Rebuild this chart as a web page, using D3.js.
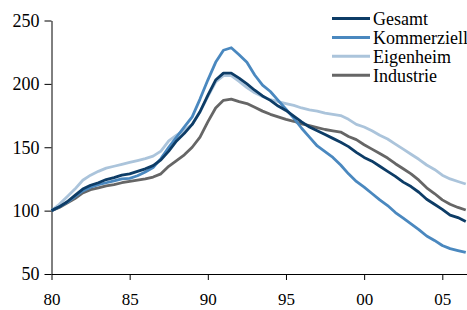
<!DOCTYPE html>
<html>
<head>
<meta charset="utf-8">
<script src="https://cdn.jsdelivr.net/npm/d3@7"></script>
<style>
  body { margin: 0; background: #fff; }
  svg text { font-family: "Liberation Serif", "Times New Roman", serif; fill: #000; }
  .axis path, .axis line { stroke: #000; stroke-width: 1; }
</style>
</head>
<body>
<svg id="chart" width="467" height="310"></svg>
<script>
// half-year steps, 1980.0 .. 2006.5
const years = d3.range(1980, 2007, 0.5);

const gesamt = [100, 103, 107, 112, 117, 120, 122, 124.5, 126, 128,
  129, 131, 133, 135.5, 140, 147, 155, 161, 168, 178,
  191, 203, 208.5, 208.5, 204.5, 200, 195, 190.5, 187, 182.5,
  179, 174.5, 170, 166, 163, 160, 157, 154, 150.5, 146,
  142, 139, 135, 131, 127, 122.5, 119, 114.5, 109, 105,
  101, 96.5, 94.5, 91.5];

const kommerziell = [100, 103, 106.5, 111, 115.5, 118.5, 120.5, 122, 123.5, 125,
  125.5, 127.5, 130.5, 134, 141, 150, 158, 166, 174, 188,
  203, 217, 226.5, 228.5, 223, 217, 207, 199, 194, 187,
  180, 173, 165, 158, 151, 146.5, 142, 136, 129, 123,
  118.5, 113.5, 108.5, 104, 98.5, 94, 89.5, 85, 80, 76.5,
  72.5, 70, 68.5, 67];

const eigenheim = [100, 105, 111, 117, 124, 128, 131, 133.5, 135, 136.5,
  138, 139.5, 141, 143, 147, 155, 159.5, 163.5, 168, 178,
  190, 201.5, 206.5, 206.5, 202, 197, 193, 190, 187.5, 186,
  184.5, 183, 181, 179.5, 178.5, 177, 176, 175, 172, 168,
  166, 163, 159.5, 156.5, 152.5, 148.5, 144.5, 140.5, 136, 132.5,
  128, 125, 123, 121];

const industrie = [100, 102.5, 106, 109.5, 114, 116.5, 118, 119.5, 120.5, 122,
  123, 124, 125, 126.5, 129, 135, 139.5, 144, 150, 158,
  170, 181, 187, 188, 186, 184.5, 181.5, 178.5, 176, 174,
  172, 170.5, 168.5, 167, 165.5, 164, 163, 162, 158.5, 156,
  152, 148.5, 145, 141.5, 137, 133, 129, 124, 118, 113.5,
  108.5, 105, 102.5, 100.5];

const seriesNames = ["Gesamt", "Kommerziell", "Eigenheim", "Industrie"];
const seriesColors = ["#0d3c66", "#4a88bf", "#abc4db", "#666666"];
const xTicks = [1980, 1985, 1990, 1995, 2000, 2005];
const xTickLabels = ["80", "85", "90", "95", "00", "05"];
const yTicks = [50, 100, 150, 200, 250];

const series = [gesamt, kommerziell, eigenheim, industrie];

const svg = d3.select("#chart");

const x = d3.scaleLinear().domain([1980, 2006.58]).range([51.5, 467]);
const y = d3.scaleLinear().domain([50, 250]).range([274, 20.5]);

// y axis
svg.append("g")
  .attr("class", "axis")
  .attr("transform", "translate(51.5,0)")
  .call(d3.axisLeft(y).tickValues(yTicks).tickSize(7).tickPadding(5).tickSizeOuter(0))
  .call(g => g.selectAll("text").style("font-size", "18px"));

// x axis
svg.append("g")
  .attr("class", "axis")
  .attr("transform", "translate(0,274)")
  .call(d3.axisBottom(x).tickValues(xTicks).tickSize(6).tickPadding(13).tickSizeOuter(0)
    .tickFormat((d, i) => xTickLabels[i]))
  .call(g => g.selectAll("text").style("font-size", "17px"));

const line = d3.line()
  .x((d, i) => x(years[i]))
  .y(d => y(d));

// draw back to front so Gesamt sits on top
[3, 2, 1, 0].forEach(k => {
  svg.append("path")
    .datum(series[k])
    .attr("fill", "none")
    .attr("stroke", seriesColors[k])
    .attr("stroke-width", 2.8)
    .attr("stroke-linejoin", "round")
    .attr("d", line);
});

// legend
const legend = svg.append("g");
seriesNames.forEach((name, i) => {
  const ly = 18.5 + i * 18.9;
  legend.append("line")
    .attr("x1", 332).attr("x2", 370)
    .attr("y1", ly).attr("y2", ly)
    .attr("stroke", seriesColors[i])
    .attr("stroke-width", 3);
  legend.append("text")
    .attr("x", 373)
    .attr("y", ly)
    .attr("dy", "0.35em")
    .style("font-size", "18px")
    .text(name);
});
</script>
</body>
</html>
